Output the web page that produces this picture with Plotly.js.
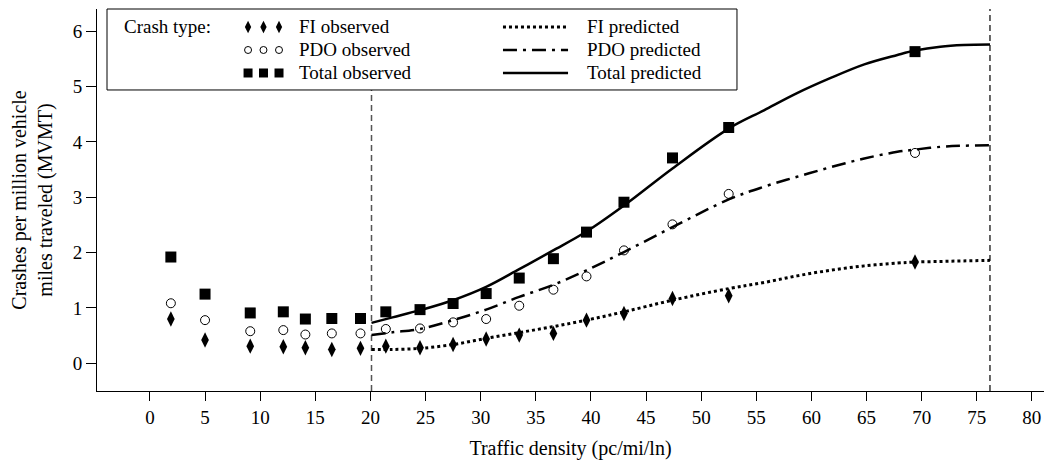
<!DOCTYPE html>
<html>
<head>
<meta charset="utf-8">
<script src="https://cdn.plot.ly/plotly-3.0.1.min.js"></script>
<style>html,body{margin:0;padding:0;background:#fff}#chart{width:1048px;height:462px}</style>
</head>
<body>
<div id="chart"></div>
<script>
// Observed data (traffic density, pc/mi/ln)
const obsDensity = [1.9, 5.0, 9.1, 12.1, 14.1, 16.5, 19.1, 21.4, 24.5, 27.5, 30.5, 33.5, 36.6, 39.6, 43.0, 47.4, 52.5, 69.4];
const fiObserved = [0.80, 0.42, 0.31, 0.30, 0.28, 0.25, 0.27, 0.31, 0.28, 0.34, 0.44, 0.51, 0.54, 0.78, 0.90, 1.17, 1.22, 1.83];
const pdoObserved = [1.085, 0.78, 0.58, 0.60, 0.52, 0.54, 0.54, 0.62, 0.63, 0.74, 0.80, 1.04, 1.33, 1.57, 2.04, 2.51, 3.06, 3.80];
const totalObserved = [1.92, 1.25, 0.91, 0.93, 0.80, 0.81, 0.81, 0.93, 0.97, 1.08, 1.26, 1.54, 1.89, 2.37, 2.91, 3.71, 4.26, 5.63];

// Predicted curves
const predDensity = [20.1, 22, 24.5, 27.5, 30.5, 33.5, 36.5, 39.6, 43, 47.4, 52.5, 55.7, 58.7, 61.7, 64.8, 67.8, 69.4, 71.7, 73.8, 76.2];
const fiPredicted = [0.25, 0.25, 0.27, 0.34, 0.45, 0.555, 0.66, 0.78, 0.93, 1.14, 1.35, 1.46, 1.58, 1.68, 1.76, 1.81, 1.83, 1.84, 1.85, 1.86];
const pdoPredicted = [0.51, 0.56, 0.62, 0.78, 0.97, 1.20, 1.41, 1.68, 2.01, 2.46, 2.96, 3.19, 3.37, 3.54, 3.70, 3.82, 3.86, 3.91, 3.93, 3.94];
const totalPredicted = [0.73, 0.83, 0.96, 1.14, 1.38, 1.70, 2.03, 2.38, 2.85, 3.52, 4.24, 4.57, 4.88, 5.15, 5.40, 5.57, 5.65, 5.72, 5.75, 5.76];

// Model range boundaries
const densityBounds = [20.1, 76.2];

// Tick labels
const xTicks = [0, 5, 10, 15, 20, 25, 30, 35, 40, 45, 50, 55, 60, 65, 70, 75, 80];
const yTicks = [0, 1, 2, 3, 4, 5, 6];

// Legend entries
const legendObserved = ['FI observed', 'PDO observed', 'Total observed'];
const legendPredicted = ['FI predicted', 'PDO predicted', 'Total predicted'];

const FONT = 'Liberation Serif, Times New Roman, serif';
const fiMarker = {symbol: 'diamond-tall', size: 11, color: '#000'};
const pdoMarker = {symbol: 'circle-open', size: 9, color: '#000', line: {width: 1, color: '#000'}};
const totMarker = {symbol: 'square', size: 11, color: '#000'};
const fiLine = {color: '#000', width: 3, dash: '3px,3px', shape: 'spline'};
const pdoLine = {color: '#000', width: 2.5, dash: '14px,6px,3px,6px', shape: 'spline'};
const totLine = {color: '#000', width: 2.5, shape: 'spline'};

const traces = [
  {x: predDensity, y: fiPredicted, mode: 'lines', line: fiLine, name: legendPredicted[0]},
  {x: predDensity, y: pdoPredicted, mode: 'lines', line: pdoLine, name: legendPredicted[1]},
  {x: predDensity, y: totalPredicted, mode: 'lines', line: totLine, name: legendPredicted[2]},
  {x: obsDensity, y: fiObserved, mode: 'markers', marker: fiMarker, name: legendObserved[0]},
  {x: obsDensity, y: pdoObserved, mode: 'markers', marker: pdoMarker, name: legendObserved[1]},
  {x: obsDensity, y: totalObserved, mode: 'markers', marker: totMarker, name: legendObserved[2]}
];

// Legend (drawn manually to match the two-column boxed style)
const rowY = [0.9529, 0.8927, 0.8325];
const symX = [0.1595, 0.1758, 0.1922];
const legMarkers = [fiMarker, pdoMarker, totMarker];
legMarkers.forEach((m, i) => {
  traces.push({x: symX, y: [rowY[i], rowY[i], rowY[i]], xaxis: 'x2', yaxis: 'y2', mode: 'markers',
    marker: Object.assign({}, m, {size: m.size - 2}), cliponaxis: false, hoverinfo: 'skip', showlegend: false});
});

const shapes = [
  {type: 'line', xref: 'x', yref: 'paper', x0: densityBounds[0], x1: densityBounds[0], y0: 0, y1: 1,
    line: {color: '#555', width: 1.5, dash: '6px,4px'}, layer: 'below'},
  {type: 'line', xref: 'x', yref: 'paper', x0: densityBounds[1], x1: densityBounds[1], y0: 0, y1: 1,
    line: {color: '#000', width: 1.2, dash: '6px,4px'}, layer: 'below'},
  {type: 'rect', xref: 'paper', yref: 'paper', x0: 0.01056, x1: 0.6758, y0: 0.788, y1: 1.0,
    line: {color: '#000', width: 1}, fillcolor: '#fff', layer: 'below'}
];
const legLines = [fiLine, pdoLine, totLine];
legLines.forEach((l, i) => {
  shapes.push({type: 'line', xref: 'paper', yref: 'paper', x0: 0.4287, x1: 0.4974, y0: rowY[i], y1: rowY[i],
    line: {color: '#000', width: l.width, dash: l.dash || 'solid'}});
});

const annotations = [
  {xref: 'paper', yref: 'paper', x: 0.0264, y: rowY[0], xanchor: 'left', yanchor: 'middle', showarrow: false,
    text: 'Crash type:', font: {family: FONT, size: 19, color: '#000'}}
];
legendObserved.forEach((t, i) => annotations.push({xref: 'paper', yref: 'paper', x: 0.2112, y: rowY[i],
  xanchor: 'left', yanchor: 'middle', showarrow: false, text: t, font: {family: FONT, size: 19, color: '#000'}}));
legendPredicted.forEach((t, i) => annotations.push({xref: 'paper', yref: 'paper', x: 0.5153, y: rowY[i],
  xanchor: 'left', yanchor: 'middle', showarrow: false, text: t, font: {family: FONT, size: 19, color: '#000'}}));

const layout = {
  width: 1048, height: 462,
  margin: {l: 97, r: 4, t: 9, b: 71},
  paper_bgcolor: '#fff', plot_bgcolor: '#fff',
  showlegend: false,
  font: {family: FONT, color: '#000'},
  xaxis: {
    range: [-4.8, 81.1], tickvals: xTicks, ticktext: xTicks.map(String),
    showline: true, linecolor: '#000', linewidth: 1, ticks: 'outside', ticklen: 9, tickcolor: '#000',
    showgrid: false, zeroline: false, tickfont: {family: FONT, size: 19},
    title: {text: 'Traffic density (pc/mi/ln)', font: {family: FONT, size: 20}, standoff: 14}
  },
  yaxis: {
    range: [-0.5, 6.4], tickvals: yTicks, ticktext: yTicks.map(String),
    showline: true, linecolor: '#000', linewidth: 1, ticks: 'outside', ticklen: 10, tickcolor: '#000',
    showgrid: false, zeroline: false, tickfont: {family: FONT, size: 19},
    title: {text: 'Crashes per million vehicle<br>miles traveled (MVMT)', font: {family: FONT, size: 20}, standoff: 14}
  },
  xaxis2: {overlaying: 'x', range: [0, 1], visible: false, fixedrange: true},
  yaxis2: {overlaying: 'y', range: [0, 1], visible: false, fixedrange: true},
  shapes: shapes,
  annotations: annotations
};

Plotly.newPlot('chart', traces, layout, {staticPlot: true, displayModeBar: false});
</script>
</body>
</html>
